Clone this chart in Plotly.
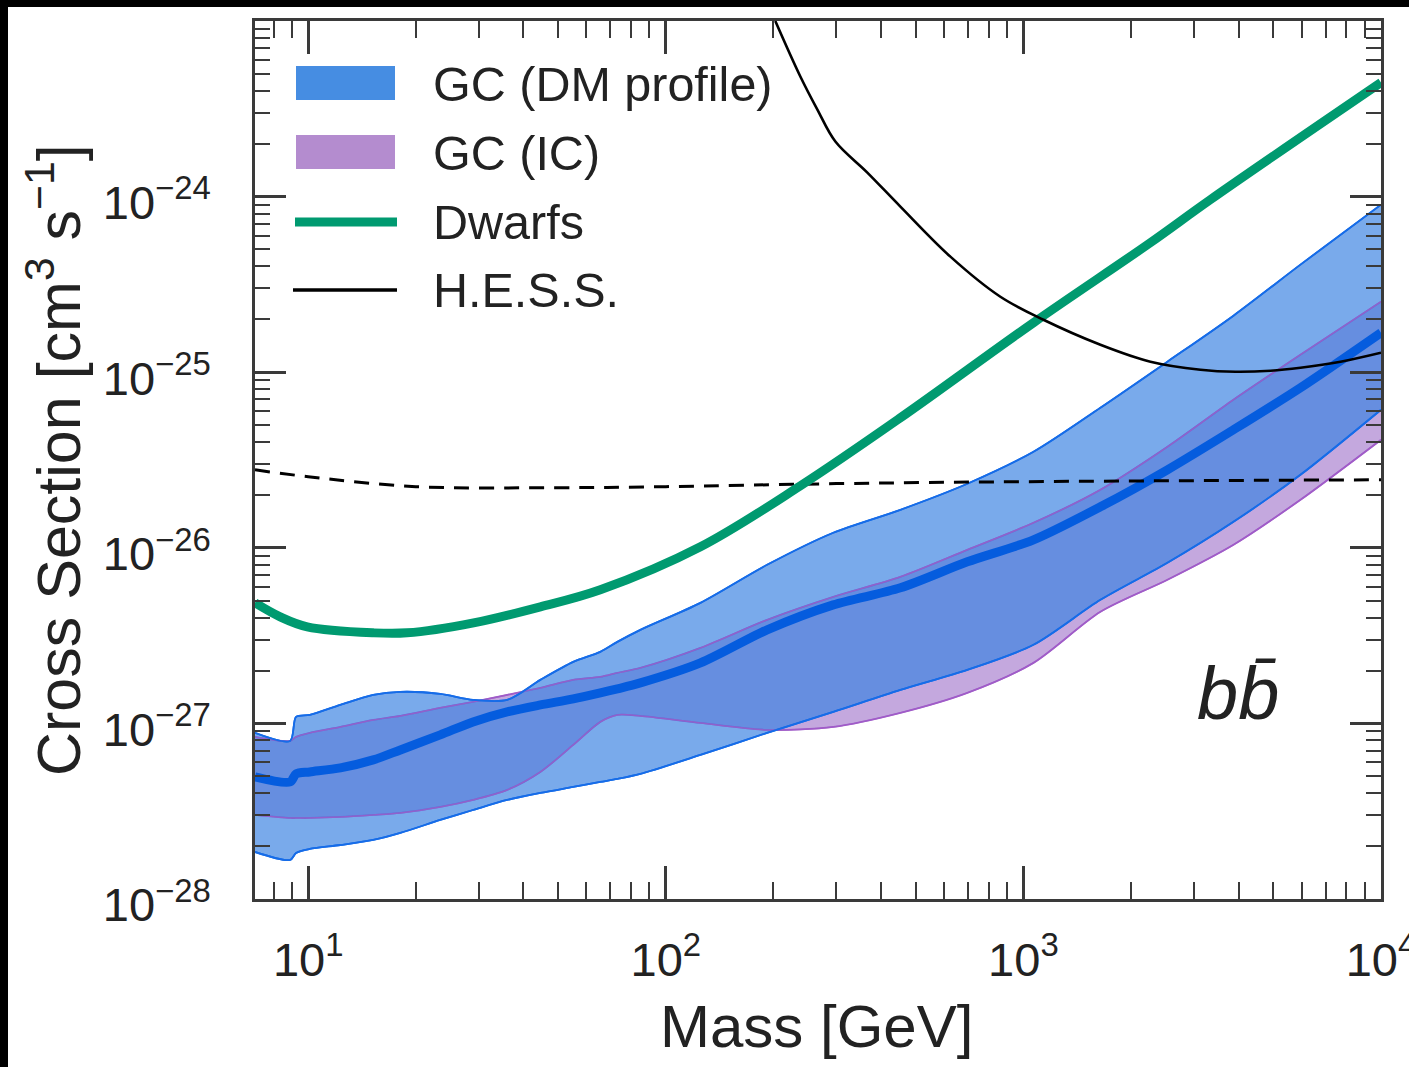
import math
import plotly.graph_objects as go

# ---------------------------------------------------------------------------
# Annihilation cross-section limits for the b b-bar channel
# ---------------------------------------------------------------------------

# Galactic Centre bands (common mass grid, GeV)
mass_gc = [7.1, 8.9, 9.25, 10.1, 12.3, 15.2, 18.1, 23.4, 28.9, 36.0, 44.6, 55.1,
           65.6, 73.2, 84.9, 125, 192, 294, 453, 697, 1067, 1642, 2528, 3868,
           5954, 10000]

# GC (DM profile) band: upper / lower edges and central estimate [cm^3 s^-1]
dm_upper = [8.83e-28, 7.95e-28, 1.089e-27, 1.118e-27, 1.274e-27, 1.453e-27,
            1.512e-27, 1.473e-27, 1.361e-27, 1.361e-27, 1.770e-27, 2.240e-27,
            2.556e-27, 2.913e-27, 3.410e-27, 4.860e-27, 8.000e-27, 1.218e-26,
            1.646e-26, 2.316e-26, 3.524e-26, 6.277e-26, 1.148e-25, 2.099e-25,
            4.098e-25, 9.004e-25]
dm_lower = [1.853e-28, 1.668e-28, 1.829e-28, 1.927e-28, 2.030e-28, 2.168e-28,
            2.377e-28, 2.819e-28, 3.213e-28, 3.665e-28, 4.018e-28, 4.346e-28,
            4.642e-28, 4.829e-28, 5.157e-28, 6.614e-28, 8.830e-28, 1.163e-27,
            1.552e-27, 2.017e-27, 2.802e-27, 5.054e-27, 8.214e-27, 1.406e-26,
            2.606e-26, 6.114e-26]
dm_central = [4.957e-28, 4.642e-28, 5.157e-28, 5.293e-28, 5.578e-28, 6.194e-28,
              7.063e-28, 8.600e-28, 1.020e-27, 1.163e-27, 1.274e-27, 1.379e-27,
              1.492e-27, 1.573e-27, 1.701e-27, 2.211e-27, 3.410e-27, 4.733e-27,
              5.918e-27, 8.323e-27, 1.110e-26, 1.712e-26, 2.782e-26, 4.703e-26,
              8.158e-26, 1.679e-25]

# GC (IC) band: upper / lower edges [cm^3 s^-1]
ic_upper = [8.376e-28, 7.950e-28, 8.376e-28, 8.830e-28, 9.552e-28, 1.047e-27,
            1.103e-27, 1.226e-27, 1.326e-27, 1.453e-27, 1.593e-27, 1.770e-27,
            1.841e-27, 1.940e-27, 2.071e-27, 2.692e-27, 3.888e-27, 5.256e-27,
            6.836e-27, 9.740e-27, 1.388e-26, 2.141e-26, 3.762e-26, 6.970e-26,
            1.258e-25, 2.522e-25]
ic_lower = [3.010e-28, 2.894e-28, 2.894e-28, 2.894e-28, 2.932e-28, 3.010e-28,
            3.090e-28, 3.342e-28, 3.665e-28, 4.179e-28, 5.293e-28, 7.542e-28,
            1.020e-27, 1.118e-27, 1.103e-27, 1.006e-27, 9.183e-28, 9.552e-28,
            1.148e-27, 1.492e-27, 2.211e-27, 4.318e-27, 6.572e-27, 1.040e-26,
            1.877e-26, 4.124e-26]

# Dwarf spheroidal galaxies limit
mass_dwarfs = [7.1, 8.35, 9.94, 15.2, 18.9, 29.0, 44.6, 65.6, 125, 238, 453,
               1067, 2266, 3334, 10000]
sigma_dwarfs = [4.860e-27, 4.044e-27, 3.547e-27, 3.279e-27, 3.279e-27, 3.738e-27,
                4.610e-27, 5.765e-27, 1.013e-26, 2.256e-26, 5.500e-26, 1.914e-25,
                5.470e-25, 9.614e-25, 4.465e-24]

# H.E.S.S. limit
mass_hess = [202.4, 237.8, 265.4, 298.0, 366.1, 452.9, 624.9, 862.2, 1137.6,
             1642, 2266, 3127, 3918, 4909, 5954, 7704, 10000]
sigma_hess = [1.0e-23, 4.83e-24, 3.13e-24, 2.058e-24, 1.370e-24, 8.77e-25,
              4.55e-25, 2.69e-25, 1.99e-25, 1.434e-25, 1.148e-25, 1.033e-25,
              1.006e-25, 1.020e-25, 1.061e-25, 1.148e-25, 1.291e-25]

# Thermal relic cross section (dashed)
mass_relic = [7.1, 10, 20, 50, 100, 300, 1000, 10000]
sigma_relic = [2.78e-26, 2.54e-26, 2.23e-26, 2.20e-26, 2.23e-26, 2.32e-26,
               2.38e-26, 2.44e-26]

# Axis ticks
x_major = [10, 100, 1000, 10000]
x_major_text = ["10<sup>1</sup>", "10<sup>2</sup>", "10<sup>3</sup>", "10<sup>4</sup>"]
y_major = [1e-28, 1e-27, 1e-26, 1e-25, 1e-24]
y_major_text = ["10<sup>\u221228</sup>", "10<sup>\u221227</sup>", "10<sup>\u221226</sup>",
                "10<sup>\u221225</sup>", "10<sup>\u221224</sup>"]
x_minor = [m * 10 ** e for e in range(0, 4) for m in range(2, 10)]
y_minor = [m * 10.0 ** e for e in range(-28, -23) for m in range(2, 10)]

legend_labels = ["GC (DM profile)", "GC (IC)", "Dwarfs", "H.E.S.S."]

# Styling
FONT = "Liberation Sans, Arial, Helvetica, sans-serif"
AXIS_COLOR = "#3a3a3a"
BLUE_FILL = "rgba(58,130,226,0.68)"
BLUE_SWATCH = "rgb(70,141,226)"
BLUE_EDGE = "rgb(22,108,232)"
BLUE_CENTRAL = "rgb(5,92,222)"
PURPLE_FILL = "rgb(196,168,222)"
PURPLE_SWATCH = "rgb(180,140,207)"
PURPLE_EDGE = "rgb(160,92,200)"
GREEN = "rgb(0,154,112)"

SMOOTH = dict(shape="spline", smoothing=0.8)

fig = go.Figure()

# GC (IC) band
fig.add_trace(go.Scatter(
    x=mass_gc, y=ic_lower, mode="lines",
    line=dict(color=PURPLE_EDGE, width=1.8, **SMOOTH),
    hoverinfo="skip", showlegend=False))
fig.add_trace(go.Scatter(
    x=mass_gc, y=ic_upper, mode="lines", fill="tonexty", fillcolor=PURPLE_FILL,
    line=dict(color=PURPLE_EDGE, width=1.8, **SMOOTH),
    hoverinfo="skip", showlegend=False))

# GC (DM profile) band
fig.add_trace(go.Scatter(
    x=mass_gc, y=dm_lower, mode="lines",
    line=dict(color=BLUE_EDGE, width=1.8, **SMOOTH),
    hoverinfo="skip", showlegend=False))
fig.add_trace(go.Scatter(
    x=mass_gc, y=dm_upper, mode="lines", fill="tonexty", fillcolor=BLUE_FILL,
    line=dict(color=BLUE_EDGE, width=1.8, **SMOOTH),
    hoverinfo="skip", showlegend=False))

# IC band edges kept visible above the blue fill
for edge in (ic_upper, ic_lower):
    fig.add_trace(go.Scatter(
        x=mass_gc, y=edge, mode="lines",
        line=dict(color=PURPLE_EDGE, width=1.5, **SMOOTH),
        opacity=0.8, hoverinfo="skip", showlegend=False))

# DM band edges on top
for edge in (dm_upper, dm_lower):
    fig.add_trace(go.Scatter(
        x=mass_gc, y=edge, mode="lines",
        line=dict(color=BLUE_EDGE, width=1.8, **SMOOTH),
        hoverinfo="skip", showlegend=False))

# DM profile central estimate
fig.add_trace(go.Scatter(
    x=mass_gc, y=dm_central, mode="lines",
    line=dict(color=BLUE_CENTRAL, width=9, shape="spline", smoothing=0.8),
    hoverinfo="skip", showlegend=False))

# Thermal relic
fig.add_trace(go.Scatter(
    x=mass_relic, y=sigma_relic, mode="lines",
    line=dict(color="black", width=3, dash="15px,10px", shape="spline"),
    hoverinfo="skip", showlegend=False))

# Dwarfs
fig.add_trace(go.Scatter(
    x=mass_dwarfs, y=sigma_dwarfs, mode="lines",
    line=dict(color=GREEN, width=9, shape="spline", smoothing=1.0),
    hoverinfo="skip", showlegend=False))

# H.E.S.S.
fig.add_trace(go.Scatter(
    x=mass_hess, y=sigma_hess, mode="lines",
    line=dict(color="black", width=2.6, shape="spline", smoothing=1.0),
    hoverinfo="skip", showlegend=False))

# Plot-area geometry (pixels) used for the hand-drawn legend and titles
W, H = 1409, 1067
ML, MR, MT, MB = 255, 28, 21, 168
PW, PH = W - ML - MR, H - MT - MB


def px(xp):
    return (xp - ML) / PW


def py(yp):
    return (H - MB - yp) / PH


shapes = []
annotations = []

# Legend swatches
shapes.append(dict(type="rect", xref="paper", yref="paper",
                   x0=px(296), x1=px(395), y0=py(100), y1=py(66),
                   fillcolor=BLUE_SWATCH, line=dict(width=0)))
shapes.append(dict(type="rect", xref="paper", yref="paper",
                   x0=px(296), x1=px(395), y0=py(169), y1=py(135),
                   fillcolor=PURPLE_SWATCH, line=dict(width=0)))
shapes.append(dict(type="line", xref="paper", yref="paper",
                   x0=px(295), x1=px(397), y0=py(222), y1=py(222),
                   line=dict(color=GREEN, width=9)))
shapes.append(dict(type="line", xref="paper", yref="paper",
                   x0=px(293), x1=px(397), y0=py(290), y1=py(290),
                   line=dict(color="black", width=3.5)))

for label, yc in zip(legend_labels, [84, 153, 222, 290]):
    annotations.append(dict(text=label, xref="paper", yref="paper",
                            x=px(431), y=py(yc), xanchor="left", yanchor="middle",
                            showarrow=False, font=dict(family=FONT, size=48.5, color="#222")))

# Channel label
annotations.append(dict(text="<i>bb\u0304</i>", xref="paper", yref="paper",
                        x=px(1238), y=py(693), xanchor="center", yanchor="middle",
                        showarrow=False, font=dict(family=FONT, size=74, color="#222")))

# Axis titles
annotations.append(dict(text="Mass [GeV]", xref="paper", yref="paper",
                        x=px(816), y=py(1026), xanchor="center", yanchor="middle",
                        showarrow=False, font=dict(family=FONT, size=60, color="#222")))
annotations.append(dict(text="Cross Section [cm<sup>3</sup> s<sup>\u22121</sup>]",
                        xref="paper", yref="paper", textangle=-90,
                        x=px(54), y=0.5, xanchor="center", yanchor="middle",
                        showarrow=False, font=dict(family=FONT, size=61, color="#222")))

# Black border strips along the top and left of the canvas
shapes.append(dict(type="rect", xref="paper", yref="paper",
                   x0=px(-5), x1=px(W + 5), y0=py(7), y1=py(-5),
                   fillcolor="black", line=dict(width=0)))
shapes.append(dict(type="rect", xref="paper", yref="paper",
                   x0=px(-5), x1=px(8), y0=py(H + 5), y1=py(-5),
                   fillcolor="black", line=dict(width=0)))

axis_common = dict(
    type="log", showline=True, linewidth=2.5, linecolor=AXIS_COLOR,
    mirror="allticks", ticks="inside", tickwidth=2.5, tickcolor=AXIS_COLOR,
    showgrid=False, zeroline=False, tickmode="array", automargin=False,
    ticklabeloverflow="allow",
    tickfont=dict(family=FONT, size=47, color="#222"),
)

fig.update_layout(
    width=W, height=H, autosize=False,
    margin=dict(l=ML, r=MR, t=MT, b=MB, pad=0, autoexpand=False),
    paper_bgcolor="white", plot_bgcolor="white",
    showlegend=False,
    xaxis=dict(axis_common, range=[math.log10(7.1), 4], ticklen=33,
               tickvals=x_major, ticktext=x_major_text, ticklabelstandoff=18,
               minor=dict(ticks="inside", ticklen=17, tickwidth=2.2,
                          tickcolor=AXIS_COLOR, tickmode="array",
                          tickvals=x_minor, showgrid=False)),
    yaxis=dict(axis_common, range=[-28, -23], ticklen=31,
               tickvals=y_major, ticktext=y_major_text, ticklabelstandoff=32,
               ticklabelshift=6,
               minor=dict(ticks="inside", ticklen=15, tickwidth=2.2,
                          tickcolor=AXIS_COLOR, tickmode="array",
                          tickvals=y_minor, showgrid=False)),
    shapes=shapes,
    annotations=annotations,
)

fig.write_html("out.html")
